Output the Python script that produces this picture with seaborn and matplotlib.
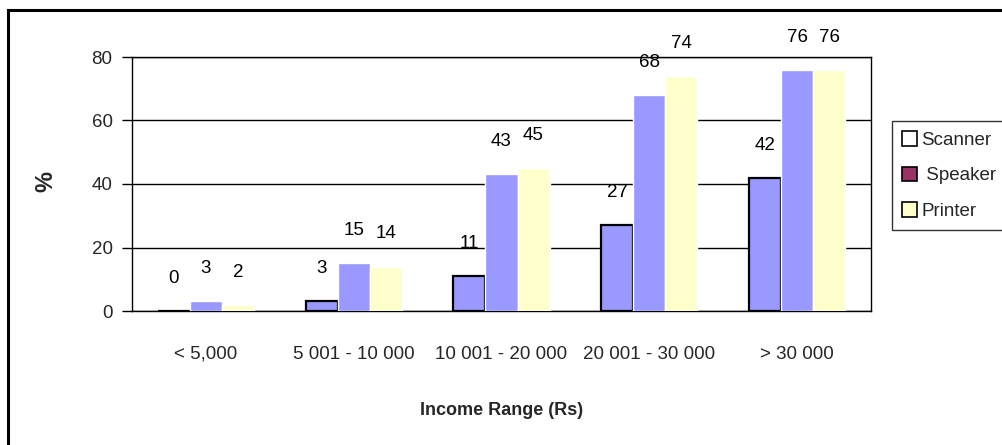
import matplotlib
matplotlib.use("Agg")
import matplotlib.pyplot as plt
from matplotlib.patches import Patch, Rectangle
import seaborn as sns
import pandas as pd

# Survey results: share of households owning each device, by income band
income_ranges = ["< 5,000", "5 001 - 10 000", "10 001 - 20 000", "20 001 - 30 000", "> 30 000"]
devices = ["Scanner", "Speaker", "Printer"]
scanner = [0, 3, 11, 27, 42]
speaker = [3, 15, 43, 68, 76]
printer = [2, 14, 45, 74, 76]
y_ticks = [0, 20, 40, 60, 80]

df = pd.DataFrame({
    "income": income_ranges * 3,
    "device": [d for d in devices for _ in income_ranges],
    "pct": scanner + speaker + printer,
})

sns.set_theme(style="white")
plt.rcParams["font.family"] = ["Liberation Sans", "DejaVu Sans"]

fig = plt.figure(figsize=(10.03, 4.45), dpi=100)
ax = fig.add_axes([132 / 1003, 1 - 311 / 445, 739 / 1003, 254 / 445])

bar_colors = {"Scanner": "#9999FF", "Speaker": "#9999FF", "Printer": "#FFFFCC"}
sns.barplot(data=df, x="income", y="pct", hue="device", order=income_ranges,
            hue_order=devices, palette=bar_colors, width=0.65, dodge=True,
            saturation=1, errorbar=None, legend=False, ax=ax, zorder=3)

# outline styling per series
for cont, dev in zip(ax.containers, devices):
    for bar in cont:
        if dev == "Scanner":
            bar.set_edgecolor("black")
            bar.set_linewidth(1.6)
        else:
            bar.set_edgecolor("white")
            bar.set_linewidth(1.0)

# value labels above every bar
for cont, vals in zip(ax.containers, [scanner, speaker, printer]):
    for bar, v in zip(cont, vals):
        ax.annotate(str(v), (bar.get_x() + bar.get_width() / 2, v),
                    xytext=(0, 23.5), textcoords="offset points",
                    ha="center", va="center", fontsize=13.5, color="black",
                    annotation_clip=False)

ax.set_ylim(0, 80)
ax.set_xlim(-0.5, len(income_ranges) - 0.5)
ax.set_yticks(y_ticks)
ax.yaxis.grid(True, color="black", linewidth=1.0, zorder=0)
ax.xaxis.grid(False)
ax.set_axisbelow(True)

# category separators as outward ticks
ax.set_xticks([i - 0.5 for i in range(len(income_ranges) + 1)], minor=True)
ax.tick_params(axis="x", which="major", length=0, pad=25, labelsize=13.5)
ax.tick_params(axis="x", which="minor", length=6, width=1, color="black", direction="out")
ax.tick_params(axis="y", which="major", length=7, width=1, color="black",
               direction="out", pad=7, labelsize=13.5, left=True)

for sp in ax.spines.values():
    sp.set_visible(True)
    sp.set_color("black")
    sp.set_linewidth(1.0)

ax.set_xlabel("Income Range (Rs)", fontsize=13, fontweight="bold")
ax.xaxis.set_label_coords(0.5, -0.358)
ax.set_ylabel("%", fontsize=17, fontweight="bold")
ax.yaxis.set_label_coords(-0.1015, 0.508)

# legend with its own swatches
handles = [
    Patch(facecolor="white", edgecolor="black", linewidth=1.2),
    Patch(facecolor="#993366", edgecolor="black", linewidth=1.2),
    Patch(facecolor="#FFFFCC", edgecolor="black", linewidth=1.2),
]
leg = fig.legend(handles, ["Scanner", " Speaker", "Printer"], loc="upper left",
                 bbox_to_anchor=(892 / 1003, 1 - 121 / 445), fontsize=13.5,
                 frameon=True, fancybox=False, handlelength=0.8, handleheight=0.8,
                 handletextpad=0.2, labelspacing=0.95, borderpad=0.55, borderaxespad=0)
leg.get_frame().set_edgecolor("black")
leg.get_frame().set_linewidth(1.0)

# chart border
fig.add_artist(Rectangle((8 / 1003, -0.1), 1.2, 1 - 10 / 445 + 0.1,
                         transform=fig.transFigure, fill=False,
                         edgecolor="black", linewidth=2.2))

fig.savefig("out.png", dpi=100)
